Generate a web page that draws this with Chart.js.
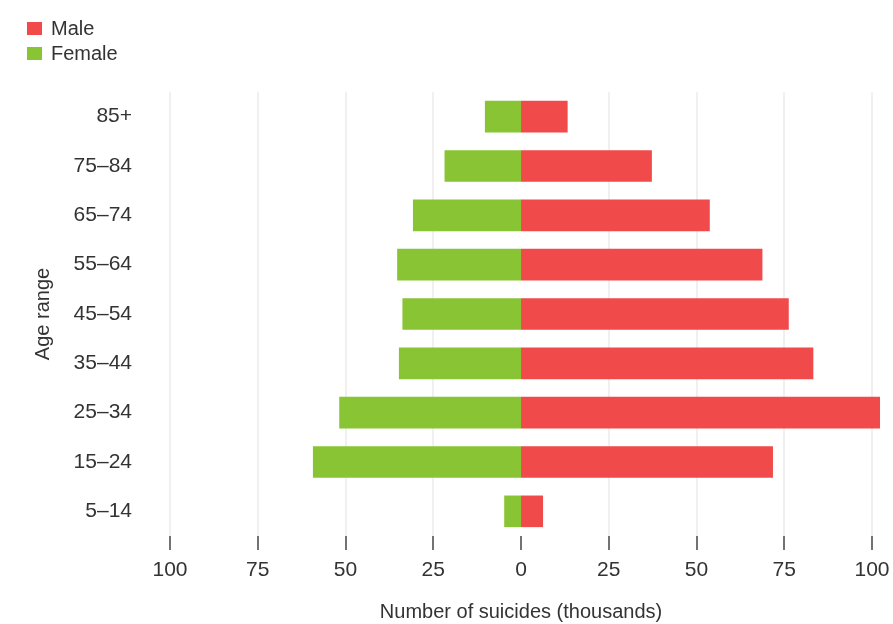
<!DOCTYPE html>
<html>
<head>
<meta charset="utf-8">
<script src="https://cdn.jsdelivr.net/npm/chart.js@4.4.1/dist/chart.umd.min.js"></script>
<style>
  body { margin: 0; background: #fff; font-family: 'Liberation Sans', Arial, sans-serif; }
  #wrap { position: relative; width: 893px; height: 624px; }
  #legend { position: absolute; left: 27px; top: 16px; font-size: 20px; color: #333; line-height: 25px; }
  #legend span.box { display: inline-block; width: 15px; height: 13px; margin-right: 9px; vertical-align: 0px; }
</style>
</head>
<body>
<div id="wrap">
  <canvas id="chart1" width="893" height="624"></canvas>
  <div id="legend"></div>
</div>
<script>
        // data
        const ageGroups = ['85+', '75–84', '65–74', '55–64', '45–54', '35–44', '25–34', '15–24', '5–14'];
        const maleValues = [13, 37, 53.5, 68.5, 76, 83, 102, 71.5, 6];
        const femaleValues = [10, 21.5, 30.5, 35, 33.5, 34.5, 51.5, 59, 4.5];
        const xTicks = [-100, -75, -50, -25, 0, 25, 50, 75, 100];

        const maleColor = 'rgb(240, 74, 74)';
        const femaleColor = 'rgb(136, 196, 52)';
        const textColor = '#333';
        const font = { family: "'Liberation Sans', Arial, sans-serif", size: 21 };
        const titleFont = { family: "'Liberation Sans', Arial, sans-serif", size: 20 };

        // legend (two rows, top left)
        document.getElementById('legend').innerHTML =
            '<div><span class="box" style="background:' + maleColor + '"></span>Male</div>' +
            '<div><span class="box" style="background:' + femaleColor + '"></span>Female</div>';

        // chart suicides by age
        const ctx1 = document.getElementById('chart1');

        new Chart(ctx1, {
        type: 'bar',
        data: {
            labels: ageGroups,
            datasets: [{
                label: 'Male',
                data: maleValues,
                backgroundColor: maleColor,
                barPercentage: 0.6,
                categoryPercentage: 1,
                inflateAmount: 1,
                clip: false,
            }, {
                label: 'Female',
                data: femaleValues.map(v => -v),
                backgroundColor: femaleColor,
                barPercentage: 0.6,
                categoryPercentage: 1,
                inflateAmount: 1,
                clip: false,
            }]
        },
        options: {
            indexAxis: 'y',
            responsive: false,
            animation: false,
            layout: {
                padding: { top: 92, right: 21, left: 0, bottom: 0 }
            },
            plugins: {
                legend: { display: false },
                tooltip: { enabled: false },
            },
            scales: {
                x: {
                    stacked: true,
                    min: -100,
                    max: 100,
                    afterBuildTicks: (scale) => {
                        scale.ticks = xTicks.map(v => ({ value: v }));
                    },
                    afterFit: (scale) => {
                        scale.height = 88;
                        scale.paddingLeft = 0;
                        scale.paddingRight = 0;
                    },
                    ticks: {
                        color: textColor,
                        font: font,
                        padding: 8,
                        maxRotation: 0,
                        callback: (v) => Math.abs(v),
                    },
                    grid: {
                        color: (c) => c.tick && c.tick.value === 0 ? 'rgba(0,0,0,0)' : '#f0f0f0',
                        lineWidth: 2,
                        tickColor: '#444',
                        tickLength: 14,
                        tickWidth: 1.5,
                    },
                    border: { display: false },
                    title: {
                        display: true,
                        text: 'Number of suicides (thousands)',
                        color: textColor,
                        font: titleFont,
                        padding: { top: 0, bottom: 0 },
                    },
                },
                y: {
                    stacked: true,
                    afterFit: (scale) => { scale.width = 170; },
                    ticks: {
                        color: textColor,
                        font: font,
                        padding: 38,
                    },
                    grid: { display: false, drawTicks: false },
                    border: { display: false },
                    title: {
                        display: true,
                        text: 'Age range',
                        color: textColor,
                        font: titleFont,
                        padding: { top: 31, bottom: 0 },
                    },
                },
            },
        },
        });
</script>
</body>
</html>
